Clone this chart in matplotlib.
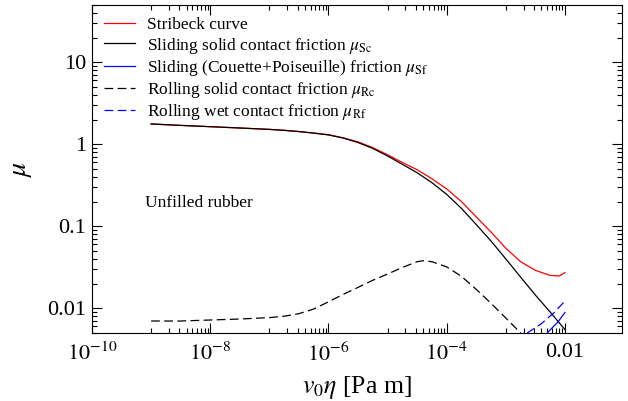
import numpy as np
import matplotlib.pyplot as plt
from matplotlib.ticker import FixedLocator, NullFormatter

plt.rcParams['font.family'] = ['Liberation Serif', 'DejaVu Serif']
plt.rcParams['mathtext.fontset'] = 'stix'

# log10(v0*eta) sample points and friction coefficients
logv_sc = [-9.0, -8.5, -8.0, -7.5, -7.0, -6.75, -6.5, -6.25, -6.0, -5.75, -5.5, -5.25,
           -5.0, -4.75, -4.5, -4.25, -4.0, -3.75, -3.5, -3.25, -3.0, -2.75, -2.5,
           -2.25, -2.0]
mu_sc = [1.77, 1.70, 1.64, 1.58, 1.52, 1.48, 1.43, 1.37, 1.30, 1.19, 1.05, 0.89,
         0.72, 0.57, 0.45, 0.34, 0.245, 0.165, 0.105, 0.066, 0.040, 0.024, 0.0145,
         0.0090, 0.0055]

logv_st = [-9.0, -8.5, -8.0, -7.5, -7.0, -6.75, -6.5, -6.25, -6.0, -5.75, -5.5, -5.25,
           -5.0, -4.75, -4.5, -4.25, -4.0, -3.75, -3.5, -3.25, -3.0, -2.75, -2.5,
           -2.25, -2.1, -2.0]
mu_st = [1.77, 1.70, 1.64, 1.58, 1.52, 1.48, 1.43, 1.37, 1.31, 1.20, 1.07, 0.91,
         0.745, 0.60, 0.49, 0.38, 0.285, 0.20, 0.13, 0.085, 0.054, 0.037, 0.029,
         0.0252, 0.0248, 0.0272]

logv_rc = [-9.0, -8.5, -8.0, -7.5, -7.0, -6.75, -6.5, -6.25, -6.0, -5.75, -5.5, -5.25,
           -5.0, -4.75, -4.5, -4.4, -4.25, -4.0, -3.75, -3.5, -3.25, -3.0, -2.75, -2.6]
mu_rc = [0.0070, 0.0070, 0.0072, 0.0074, 0.0077, 0.0080, 0.0086, 0.0098, 0.0120, 0.0148,
         0.0180, 0.0220, 0.0262, 0.0315, 0.0370, 0.0380, 0.0370, 0.0320, 0.0245, 0.0170,
         0.0115, 0.0076, 0.0050, 0.0038]

logv_sf = [-2.4, -2.29, -2.12, -2.0]
mu_sf = [0.0041, 0.0051, 0.0068, 0.0089]

logv_rf = [-2.8, -2.62, -2.41, -2.18, -2.0]
mu_rf = [0.0038, 0.0051, 0.0064, 0.0089, 0.0123]

xticks = [1e-10, 1e-8, 1e-6, 1e-4, 1e-2]
xticklabels = [r'$10^{-10}$', r'$10^{-8}$', r'$10^{-6}$', r'$10^{-4}$', '0.01']
yticks = [0.01, 0.1, 1, 10]
yticklabels = ['0.01', '0.1', '1', '10']

fig = plt.figure(figsize=(6.28, 4.01), dpi=100)
ax = fig.add_axes([0.1465, 0.1696, 0.8435, 0.818])

dash = (7, 3.5)
lw = 0.9
ax.plot(10.0 ** np.array(logv_st), mu_st, color='#ff0000', lw=lw, label='Stribeck curve')
ax.plot(10.0 ** np.array(logv_sc), mu_sc, color='black', lw=lw,
        label=r'Sliding solid contact friction $\mu_{\rm Sc}$')
ax.plot(10.0 ** np.array(logv_sf), mu_sf, color='#0000ff', lw=lw,
        label=r'Sliding (Couette+Poiseuille) friction $\mu_{\rm Sf}$')
ax.plot(10.0 ** np.array(logv_rc), mu_rc, color='black', lw=lw, dashes=dash,
        label=r'Rolling solid contact friction $\mu_{\rm Rc}$')
ax.plot(10.0 ** np.array(logv_rf), mu_rf, color='#0000ff', lw=lw, dashes=dash,
        label=r'Rolling wet contact friction $\mu_{\rm Rf}$')

ax.set_xscale('log')
ax.set_yscale('log')
ax.set_xlim(1e-10, 10 ** -1.04)
ax.set_ylim(0.005, 50)

ax.set_xticks(xticks)
ax.set_xticklabels(xticklabels)
# minor ticks only in the odd decades
xminor = [m * 10.0 ** k for k in (-9, -7, -5, -3) for m in range(1, 10)]
ax.xaxis.set_minor_locator(FixedLocator(xminor))
ax.xaxis.set_minor_formatter(NullFormatter())
ax.set_yticks(yticks)
ax.set_yticklabels(yticklabels)
ax.yaxis.set_minor_formatter(NullFormatter())

ax.tick_params(which='both', direction='in', top=True, right=True, labelsize=16, width=0.8)
ax.tick_params(which='major', length=7)
ax.tick_params(which='minor', length=3.5)
ax.tick_params(axis='x', pad=7)
ax.tick_params(axis='y', pad=4)
for s in ax.spines.values():
    s.set_linewidth(0.8)

ax.set_xlabel(r'$v_0\eta$ [Pa m]', fontsize=18.5, labelpad=6)
ax.set_ylabel(r'$\mu$', fontsize=20, labelpad=10)

ax.text(8e-10, 0.194, 'Unfilled rubber', fontsize=12.5, va='center')

ax.legend(loc='upper left', frameon=False, fontsize=12.5, handlelength=1.75,
          handletextpad=0.7, labelspacing=0.13, borderaxespad=0.3)

fig.savefig('out.png', dpi=100)
